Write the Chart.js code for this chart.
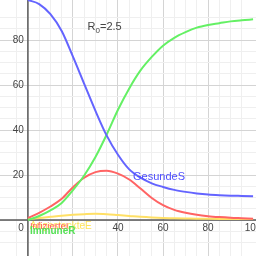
<!DOCTYPE html>
<html>
<head>
<meta charset="utf-8">
<script src="https://cdn.jsdelivr.net/npm/chart.js@4/dist/chart.umd.min.js"></script>
<style>
html,body{margin:0;padding:0;background:#fff;}
#wrap{width:256px;height:256px;}
</style>
</head>
<body>
<div id="wrap"><canvas id="c" width="256" height="256"></canvas></div>
<script>
// Time (days)
const days = [0,5,10,15,20,25,30,35,40,45,50,55,60,65,70,75,80,85,90,95,100];
// Gesunde S
const gesundeS = [97.8,96,91.5,84,72.6,60.5,48.5,37.5,29,22.5,18.8,16.3,14.7,13.4,12.5,11.8,11.3,11,10.8,10.7,10.6];
// Immune R
const immuneR = [0,1.8,4.3,7.6,13.3,19.8,28,38,49,58.5,66.5,72.5,77.5,81,83.5,85.5,86.7,87.5,88.3,88.8,89.2];
// Infizierte I
const infizierteI = [0.8,3.2,6,9.4,14.6,18.8,21.3,21.9,20.6,18,14,9.8,6.6,4.5,3.2,2.3,1.7,1.3,1.0,0.8,0.6];
// Angesteckte E
const angesteckteE = [0.3,0.9,1.4,1.9,2.3,2.6,2.8,2.6,2.2,1.8,1.4,1.1,0.9,0.8,0.7,0.6,0.55,0.5,0.45,0.4,0.4];
// axis tick labels
const xTickLabels = [0,40,60,80,100];
const yTickLabels = [20,40,60,80];

const pts = arr => days.map((d,i)=>({x:d,y:arr[i]}));

const FONT = '"Liberation Sans", Arial, sans-serif';

function gridColor(ctx){
  const v = ctx.tick && ctx.tick.value;
  if (v === undefined) return 'rgba(0,0,0,0)';
  if (Math.abs(v/5 - Math.round(v/5)) > 1e-6) return 'rgba(0,0,0,0)';
  if (Math.abs(v/20 - Math.round(v/20)) < 1e-6) return '#d4d4d4';
  return '#efefef';
}

const overlay = {
  id:'overlay',
  beforeDatasetsDraw(chart){
    const {ctx, scales:{x,y}, chartArea:a} = chart;
    ctx.save();
    ctx.strokeStyle = '#5a5a5a';
    ctx.lineWidth = 1.5;
    const y0 = y.getPixelForValue(0), x0 = x.getPixelForValue(0);
    ctx.beginPath();
    ctx.moveTo(a.left, y0); ctx.lineTo(a.right, y0);
    ctx.moveTo(x0, a.top); ctx.lineTo(x0, a.bottom);
    ctx.stroke();
    ctx.fillStyle = '#444';
    ctx.font = '10px ' + FONT;
    ctx.textBaseline = 'middle';
    ctx.textAlign = 'right';
    yTickLabels.forEach(v=>{ ctx.fillText(String(v), x0-4, y.getPixelForValue(v)); });
    ctx.textBaseline = 'top';
    xTickLabels.forEach(v=>{
      if (v===0){ ctx.textAlign='right'; ctx.fillText('0', x0-4, y0+3); }
      else { ctx.textAlign='center'; ctx.fillText(String(v), x.getPixelForValue(v), y0+3); }
    });
    ctx.restore();
  },
  afterDatasetsDraw(chart){
    const {ctx, scales:{x,y}} = chart;
    ctx.save();
    ctx.textBaseline = 'alphabetic';
    ctx.textAlign = 'left';
    // R0 label
    let px = x.getPixelForValue(26.5), py = y.getPixelForValue(84.5);
    ctx.fillStyle = '#444';
    ctx.font = '11px ' + FONT;
    ctx.fillText('R', px, py);
    let w = ctx.measureText('R').width;
    ctx.font = '8px ' + FONT;
    ctx.fillText('0', px+w, py+3);
    let w2 = ctx.measureText('0').width;
    ctx.font = '11px ' + FONT;
    ctx.fillText('=2.5', px+w+w2, py);
    // GesundeS
    ctx.fillStyle = '#5050ff';
    ctx.font = '11px ' + FONT;
    ctx.fillText('GesundeS', x.getPixelForValue(46.7), y.getPixelForValue(17.8));
    // bottom labels
    const bx = x.getPixelForValue(0.9);
    ctx.font = '10px ' + FONT;
    ctx.fillStyle = '#ffe45a';
    ctx.fillText('AngesteckteE', bx, y.getPixelForValue(-3.9));
    ctx.fillStyle = '#ff5a5a';
    ctx.font = '9.5px ' + FONT;
    ctx.fillText('InfizierteI', bx, y.getPixelForValue(-3.9));
    ctx.fillStyle = '#55e055';
    ctx.font = 'bold 10px ' + FONT;
    ctx.fillText('ImmuneR', bx, y.getPixelForValue(-6.3));
    ctx.restore();
  }
};

const ds = (data,color)=>({data:pts(data), borderColor:color, borderWidth:2, pointRadius:0, fill:false, cubicInterpolationMode:'monotone', tension:0.4});

new Chart(document.getElementById('c'), {
  type:'line',
  data:{datasets:[
    ds(gesundeS,'#6464ff'),
    ds(immuneR,'#64f064'),
    ds(infizierteI,'#ff6464'),
    ds(angesteckteE,'#ffe066')
  ]},
  options:{
    responsive:false,
    animation:false,
    events:[],
    layout:{padding:0},
    plugins:{legend:{display:false},tooltip:{enabled:false},title:{display:false}},
    scales:{
      x:{type:'linear',min:-12.4,max:101.3,
         ticks:{display:false,stepSize:5,maxTicksLimit:100},
         grid:{color:gridColor,drawTicks:false,lineWidth:1},
         border:{display:false}},
      y:{type:'linear',min:-16,max:97.8,
         ticks:{display:false,stepSize:5,maxTicksLimit:100},
         grid:{color:gridColor,drawTicks:false,lineWidth:1},
         border:{display:false}}
    }
  },
  plugins:[overlay]
});
</script>
</body>
</html>
